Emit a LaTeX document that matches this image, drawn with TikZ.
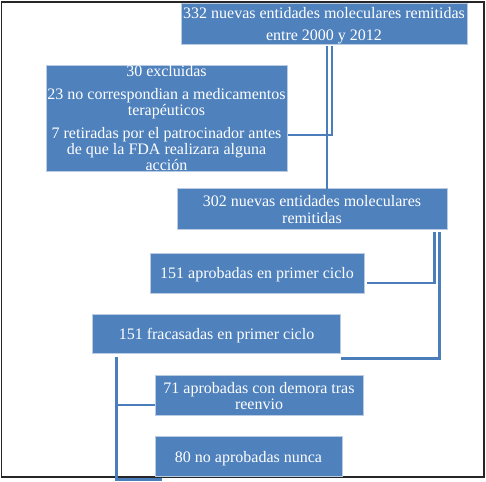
\documentclass[tikz,border=0pt]{standalone}
\usepackage{fontspec}
\setmainfont{Liberation Serif}
\usetikzlibrary{calc}
\definecolor{boxblue}{HTML}{4F81BD}
\definecolor{linkblue}{HTML}{4A7EBB}
\definecolor{edgeblue}{HTML}{BACBE4}
\tikzset{
  box/.style={rectangle, fill=boxblue, draw=edgeblue, line width=0.6pt, inner sep=0pt},
  txt/.style={text=white, align=center, inner sep=0pt, font=\fontsize{16}{16}\selectfont},
  link/.style={draw=linkblue, line width=2.6pt},
  frame/.style={draw=black!85, line width=1.6pt}
}
\begin{document}
\begin{tikzpicture}[x=1pt,y=-1pt]
\useasboundingbox (0,0) rectangle (486,481);
\draw[frame] (1.5,2) rectangle (484,477);
% boxes
\node[box, minimum width=286pt, minimum height=41pt] (top) at (324,24) {};
\node[box, minimum width=241pt, minimum height=106pt] (ex) at (166.5,118) {};
\node[box, minimum width=270pt, minimum height=41pt] (n302) at (312,208.5) {};
\node[box, minimum width=214pt, minimum height=40pt] (ap) at (257,273) {};
\node[box, minimum width=248pt, minimum height=39pt] (fr) at (216.5,333.5) {};
\node[box, minimum width=208pt, minimum height=40pt] (a71) at (259,395) {};
\node[box, minimum width=187pt, minimum height=40pt] (n80) at (248.5,456) {};
% texts
\node[txt] (ttop) at ([yshift=-2pt]top) {332 nuevas entidades moleculares remitidas\\[6pt]entre 2000 y 2012};
\node[txt] (tex) at ([yshift=0pt]ex) {30 excluidas\\[7pt]23 no correspondian a medicamentos\\terapéuticos\\[7pt]7 retiradas por el patrocinador antes\\de que la FDA realizara alguna\\acción};
\node[txt] (t302) at ([yshift=-1pt]n302) {302 nuevas entidades moleculares\\[1pt]remitidas};
\node[txt] (tap) at ([yshift=-2pt]ap) {151 aprobadas en primer ciclo};
\node[txt] (tfr) at ([yshift=-2.5pt]fr) {151 fracasadas en primer ciclo};
\node[txt] (t71) at ([yshift=-1pt]a71) {71 aprobadas con demora tras\\reenvio};
\node[txt] (t80) at ([yshift=-3pt]n80) {80 no aprobadas nunca};
% connectors
\draw[link] ([xshift=8pt,yshift=-1pt]top.south) |- ([xshift=1pt,yshift=-17pt]ex.east);
\draw[link] ([xshift=3pt,yshift=-1pt]top.south) -- ([xshift=3pt,yshift=-1pt]top.south |- n302.north);
\draw[link] ([xshift=-13pt,yshift=-3pt]n302.south east) |- ([xshift=3pt,yshift=-10pt]ap.east);
\draw[link] ([xshift=-8pt,yshift=-3pt]n302.south east) |- ([yshift=-5pt]fr.south east);
\draw[link] ([xshift=24pt,yshift=-4pt]fr.south west) |- ([yshift=-10pt]a71.west);
\draw[link] ([xshift=24pt,yshift=-4pt]fr.south west) |- ([xshift=7pt,yshift=-3pt]n80.south west);
\end{tikzpicture}
\end{document}
